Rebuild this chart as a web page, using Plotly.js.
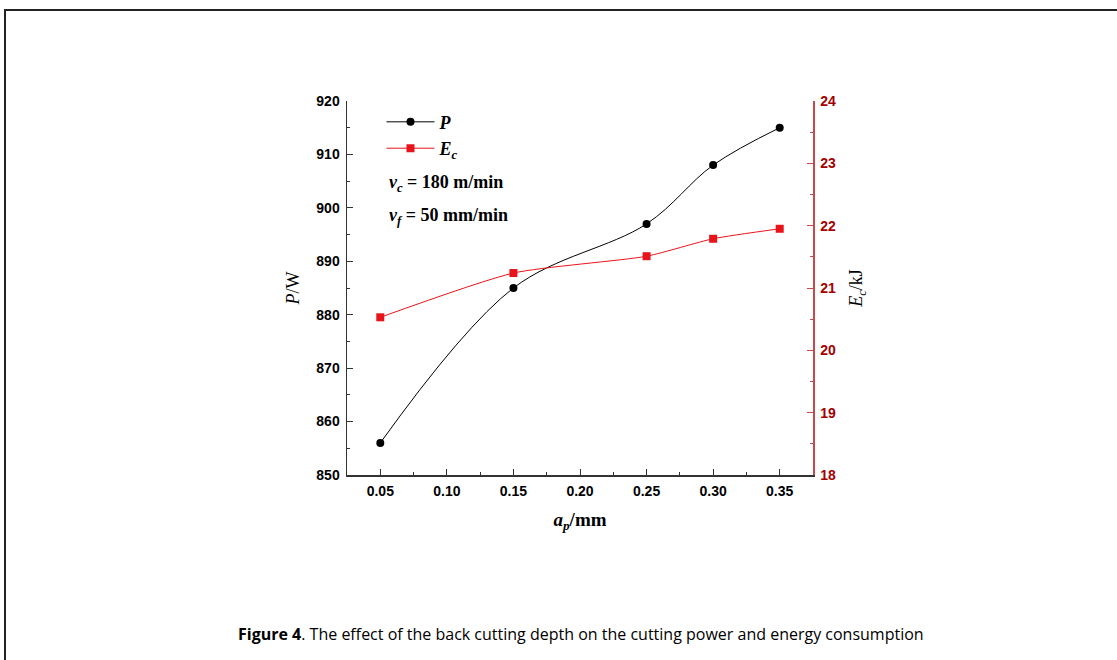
<!DOCTYPE html>
<html>
<head>
<meta charset="utf-8">
<script src="https://cdn.plot.ly/plotly-3.0.1.min.js"></script>
<style>
html,body{margin:0;padding:0;background:#fff;}
#wrap{position:relative;width:1117px;height:660px;overflow:hidden;}
#chart{width:1117px;height:660px;}
#frame{position:absolute;left:4px;top:9px;right:-10px;bottom:-10px;border-top:2px solid #222;border-left:2px solid #222;pointer-events:none;}
</style>
</head>
<body>
<div id="wrap"><div id="chart"></div><div id="frame"></div></div>
<script>
// Data
const depth = [0.05, 0.15, 0.25, 0.30, 0.35];           // a_p / mm
const power = [856, 885, 897, 908, 915];                 // P / W
const energy = [20.53, 21.24, 21.51, 21.79, 21.95];      // E_c / kJ
const xTicks = [0.05, 0.10, 0.15, 0.20, 0.25, 0.30, 0.35];
const xTickText = ["0.05", "0.10", "0.15", "0.20", "0.25", "0.30", "0.35"];

const tickFont = {family: "Liberation Sans, Arial, sans-serif", size: 14, color: "#000", weight: 700};
const serif = "Liberation Serif, Times New Roman, serif";

const traces = [
  {
    x: depth, y: power, name: "<i>P</i>", type: "scatter", mode: "lines+markers",
    line: {color: "#000", width: 1, shape: "spline", smoothing: 1},
    marker: {color: "#000", size: 8, symbol: "circle"},
    xaxis: "x", yaxis: "y"
  },
  {
    x: depth, y: energy, name: "<i>E<sub>c</sub></i>", type: "scatter", mode: "lines+markers",
    line: {color: "#e8141b", width: 1, shape: "spline", smoothing: 0.6},
    marker: {color: "#e8141b", size: 8, symbol: "square"},
    xaxis: "x", yaxis: "y2"
  }
];

const layout = {
  width: 1117, height: 660,
  paper_bgcolor: "#fff", plot_bgcolor: "rgba(0,0,0,0)",
  margin: {l: 347, r: 304, t: 101, b: 185},
  showlegend: true,
  legend: {
    x: 0.074, y: 0.993, xanchor: "left", yanchor: "top",
    bgcolor: "rgba(0,0,0,0)", borderwidth: 0,
    font: {family: serif, size: 18, color: "#000", weight: 700},
    tracegroupgap: 0, itemwidth: 48
  },
  xaxis: {
    range: [0.025, 0.375], tickmode: "array", tickvals: xTicks, ticktext: xTickText,
    showline: true, linecolor: "#333", linewidth: 1.5, mirror: false,
    ticks: "inside", ticklen: 6, tickwidth: 1, tickcolor: "#333",
    minor: {dtick: 0.025, tick0: 0.025, ticks: "inside", ticklen: 3, tickcolor: "#333", tickwidth: 1},
    showgrid: false, zeroline: false, tickfont: tickFont, ticklabelstandoff: 3,
    title: {text: "<i>a<sub>p</sub></i>/mm", font: {family: serif, size: 19, color: "#000", weight: 700}, standoff: 14}
  },
  yaxis: {
    range: [850, 920], dtick: 10, tick0: 850,
    showline: true, linecolor: "#333", linewidth: 1.5,
    ticks: "inside", ticklen: 6, tickwidth: 1, tickcolor: "#333",
    minor: {dtick: 5, ticks: "inside", ticklen: 3, tickcolor: "#333", tickwidth: 1},
    showgrid: false, zeroline: false, tickfont: tickFont, ticklabelstandoff: 3,
    title: {text: "<i>P</i>/W", font: {family: serif, size: 18, color: "#000"}, standoff: 12}
  },
  yaxis2: {
    overlaying: "y", side: "right", anchor: "x",
    range: [18, 24], dtick: 1, tick0: 18,
    showline: true, linecolor: "#c8484b", linewidth: 1.5,
    ticks: "inside", ticklen: 6, tickwidth: 1, tickcolor: "#c8484b",
    minor: {dtick: 0.5, ticks: "inside", ticklen: 3, tickcolor: "#c8484b", tickwidth: 1},
    showgrid: false, zeroline: false,
    tickfont: {family: "Liberation Sans, Arial, sans-serif", size: 14, color: "#a50000", weight: 700},
    ticklabelstandoff: 3,
    title: {text: "<i>E<sub>c</sub></i>/kJ", font: {family: serif, size: 18, color: "#000"}, standoff: 14}
  },
  annotations: [
    {xref: "paper", yref: "paper", x: 0.086, y: 0.78, xanchor: "left", yanchor: "middle", showarrow: false,
     text: "<i>v<sub>c</sub></i> = 180 m/min", font: {family: serif, size: 18, color: "#000", weight: 700}},
    {xref: "paper", yref: "paper", x: 0.086, y: 0.692, xanchor: "left", yanchor: "middle", showarrow: false,
     text: "<i>v<sub>f</sub></i> = 50 mm/min", font: {family: serif, size: 18, color: "#000", weight: 700}},
    {xref: "paper", yref: "paper", x: 0.502, y: -0.425, xanchor: "center", yanchor: "middle", showarrow: false,
     text: "<b>Figure 4</b>. The effect of the back cutting depth on the cutting power and energy consumption",
     font: {family: "Open Sans, sans-serif", size: 16, color: "#000"}}
  ]
};

Plotly.newPlot("chart", traces, layout, {displayModeBar: false, staticPlot: true});
</script>
</body>
</html>
